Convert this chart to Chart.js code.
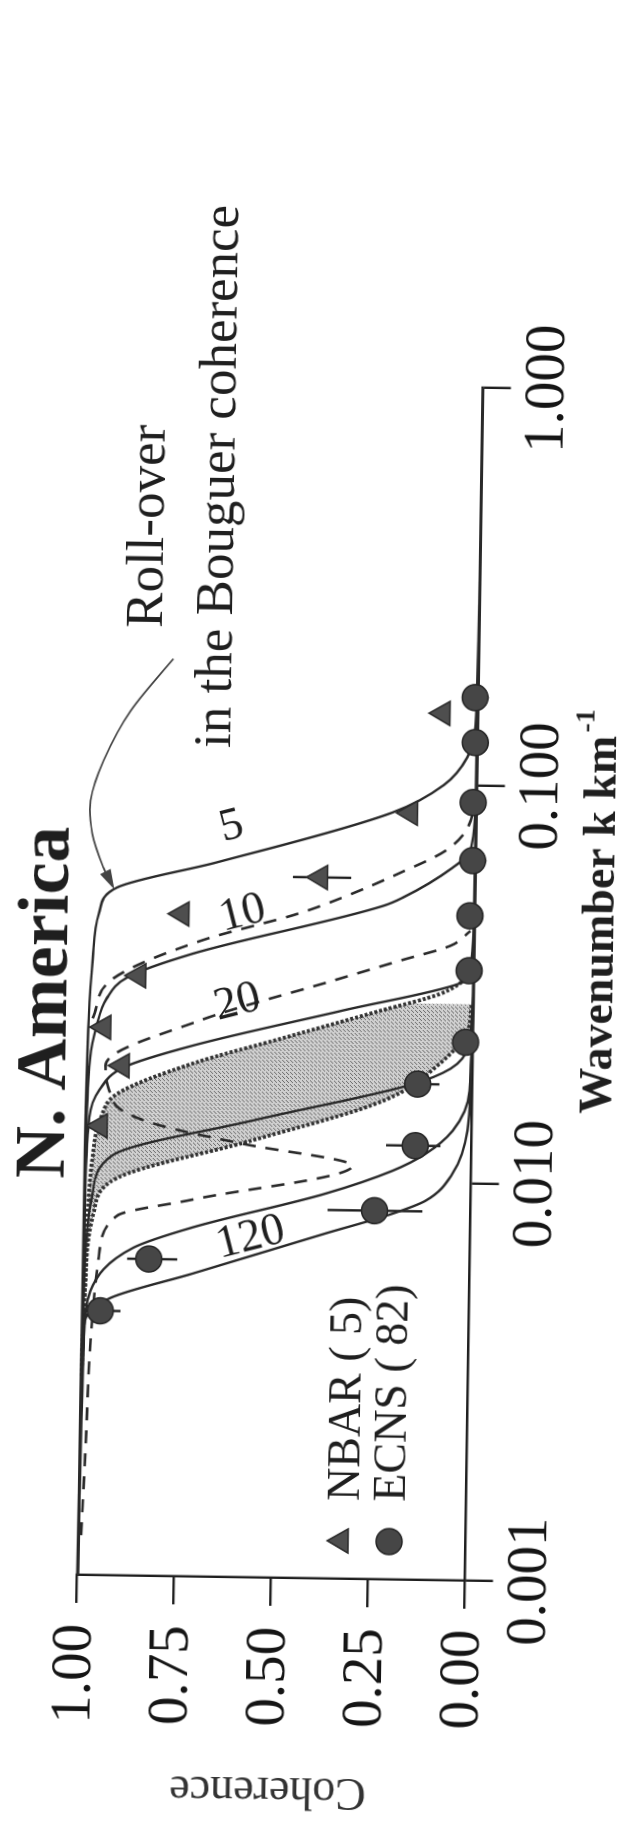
<!DOCTYPE html>
<html><head><meta charset="utf-8">
<script src="https://cdn.jsdelivr.net/npm/chart.js@4.4.1/dist/chart.umd.min.js"></script>
<style>
html,body{margin:0;padding:0;background:#fff;overflow:hidden;}
#wrap{position:relative;width:642px;height:1825px;overflow:hidden;background:#fff;}
#c{position:absolute;left:-591.5px;top:591.5px;width:1825px;height:642px;transform:rotate(-89.14deg);transform-origin:50% 50%;}
</style></head><body>
<div id="wrap"><canvas id="c" width="1825" height="642"></canvas></div>
<script>
// ---- axis ticks ----
const wavenumberTicks = [0.001, 0.01, 0.1, 1];
const coherenceTicks = [0, 0.25, 0.5, 0.75, 1];

// ---- observed coherence: ECNS (circles) ----
const ecnsK  = [0.1663, 0.1282, 0.09057, 0.06471, 0.04699, 0.03420, 0.02259, 0.01766, 0.01236, 0.008453, 0.006266, 0.004624];
const ecnsC  = [0.008, 0.006, 0.009, 0.008, 0.013, 0.013, 0.019, 0.141, 0.145, 0.247, 0.826, 0.949];
const ecnsLo = [null, null, null, null, null, null, null, 0.085, 0.080, 0.124, 0.753, 0.897];
const ecnsHi = [null, null, null, null, null, null, null, 0.206, 0.220, 0.368, 0.882, 0.992];

// ---- observed coherence: NBAR (triangles) ----
const nbarK  = [0.1514, 0.08472, 0.05794, 0.04634, 0.03228, 0.02388, 0.01914, 0.01349];
const nbarC  = [0.090, 0.170, 0.399, 0.754, 0.863, 0.951, 0.902, 0.956];
const nbarLo = [null, null, 0.32, null, null, null, null, null];
const nbarHi = [null, null, 0.47, null, null, null, null, null];

// ---- theoretical curves (solid) ----
const te5K  = [0.001, 0.01, 0.02512, 0.03548, 0.04603, 0.05370, 0.06266, 0.08492, 0.1, 0.1175, 0.1413, 0.3162, 1];
const te5C  = [0.997, 0.995, 0.99, 0.982, 0.968, 0.922, 0.666, 0.216, 0.085, 0.026, 0.006, 0.001, 0];
const te10K = [0.001, 0.01, 0.01995, 0.02399, 0.02818, 0.03192, 0.03681, 0.04943, 0.05188, 0.06194, 0.06855, 0.1, 1];
const te10C = [0.997, 0.993, 0.985, 0.97, 0.945, 0.893, 0.726, 0.236, 0.187, 0.06, 0.014, 0.002, 0];
const te20K = [0.001, 0.007943, 0.01413, 0.01660, 0.01897, 0.02163, 0.02685, 0.03170, 0.03319, 0.05012, 1];
const te20C = [0.997, 0.993, 0.985, 0.96, 0.898, 0.722, 0.337, 0.038, 0.014, 0.002, 0];
const te40K = [0.001, 0.006310, 0.008913, 0.01138, 0.01413, 0.01758, 0.01936, 0.02213, 0.03162, 1];
const te40C = [0.997, 0.99, 0.975, 0.924, 0.56, 0.159, 0.057, 0.012, 0.002, 0];
const te80K = [0.001, 0.003981, 0.005188, 0.006683, 0.007551, 0.009290, 0.01067, 0.01180, 0.01352, 0.01706, 0.03162, 1];
const te80C = [0.997, 0.99, 0.975, 0.866, 0.715, 0.374, 0.202, 0.118, 0.049, 0.007, 0.001, 0];
const te120K = [0.001, 0.003548, 0.004365, 0.004989, 0.005781, 0.007379, 0.008318, 0.008995, 0.01054, 0.01355, 0.01807, 0.03162, 1];
const te120C = [0.998, 0.995, 0.988, 0.923, 0.713, 0.372, 0.201, 0.116, 0.048, 0.011, 0.005, 0.001, 0];

// ---- shaded band edges ----
const bandUK = [0.005012, 0.01122, 0.01413, 0.01626, 0.01950, 0.02280, 0.02692, 0.02985, 0.03266, 0.03548];
const bandUC = [0.99, 0.975, 0.955, 0.914, 0.721, 0.488, 0.239, 0.086, 0.022, 0.005];
const bandLK = [0.003162, 0.005012, 0.008128, 0.01, 0.01253, 0.01600, 0.01991, 0.02415, 0.02818];
const bandLC = [0.995, 0.99, 0.97, 0.910, 0.569, 0.228, 0.085, 0.015, 0.005];

// ---- dashed curves ----
const dash1K = [0.001259, 0.002056, 0.003890, 0.006310, 0.008035, 0.008872, 0.01094, 0.01230, 0.01358, 0.01476, 0.01660, 0.01914, 0.02512, 0.03192, 0.03606, 0.03945, 0.04305];
const dash1C = [0.99, 0.982, 0.973, 0.955, 0.909, 0.716, 0.306, 0.587, 0.801, 0.900, 0.935, 0.945, 0.70, 0.362, 0.19, 0.062, 0.011];
const dash2K = [0.02512, 0.03162, 0.03972, 0.04710, 0.05164, 0.05998, 0.06839, 0.07907, 0.1];
const dash2C = [0.98, 0.93, 0.705, 0.449, 0.342, 0.193, 0.078, 0.020, 0.003];

// ---- annotations ----
const curveLabelText = ['5', '10', '20', '120'];
const curveLabelK = [0.07709, 0.04667, 0.02786, 0.007145];
const curveLabelC = [0.630, 0.598, 0.608, 0.565];
const noteLines = ['Roll-over', 'in the Bouguer coherence'];
const noteK = [0.2421, 0.1216];
const noteC = [0.817, 0.636];
const arrowK = [0.2028, 0.1496, 0.1117, 0.08851, 0.07311, 0.06012, 0.05420];
const arrowC = [0.786, 0.894, 0.962, 0.994, 0.988, 0.958, 0.934];

const serif = "'Liberation Serif','Times New Roman',serif";
const ink = '#1f1f1f';
const pts = (ks, cs) => ks.map((k, i) => ({x: k, y: cs[i]}));

function stipple() {
  const p = document.createElement('canvas'); p.width = 4; p.height = 4;
  const g = p.getContext('2d');
  g.fillStyle = 'rgba(206,206,206,0.95)'; g.fillRect(0, 0, 4, 4);
  g.fillStyle = '#6a6a6a';
  [[0,0],[2,2],[3,1]].forEach(([a,b]) => g.fillRect(a, b, 1, 1));
  return g.createPattern(p, 'repeat');
}

const solid = {showLine: true, pointRadius: 0, borderColor: '#2a2a2a', borderWidth: 2.4, cubicInterpolationMode: 'monotone', fill: false, clip: 12, order: 2};
const dashed = {showLine: true, pointRadius: 0, borderColor: '#2a2a2a', borderWidth: 2.6, borderDash: [13, 10], cubicInterpolationMode: 'monotone', fill: false, clip: 12, order: 3};

function smoothPath(ctx, p) {
  ctx.moveTo(p[0][0], p[0][1]);
  for (let i = 0; i < p.length - 1; i++) {
    const p0 = p[Math.max(i - 1, 0)], p1 = p[i], p2 = p[i + 1], p3 = p[Math.min(i + 2, p.length - 1)];
    ctx.bezierCurveTo(p1[0] + (p2[0] - p0[0]) / 6, p1[1] + (p2[1] - p0[1]) / 6,
                      p2[0] - (p3[0] - p1[0]) / 6, p2[1] - (p3[1] - p1[1]) / 6, p2[0], p2[1]);
  }
}

const overlay = {
  id: 'overlay',
  beforeDatasetsDraw(chart) {
    const {ctx, scales: {x, y}} = chart;
    ctx.save();
    ctx.strokeStyle = ink; ctx.lineWidth = 2.4; ctx.setLineDash([]);
    [[ecnsK, ecnsLo, ecnsHi], [nbarK, nbarLo, nbarHi]].forEach(([ks, lo, hi]) => {
      ks.forEach((k, i) => {
        if (lo[i] == null) return;
        const px = x.getPixelForValue(k);
        ctx.beginPath(); ctx.moveTo(px, y.getPixelForValue(lo[i])); ctx.lineTo(px, y.getPixelForValue(hi[i])); ctx.stroke();
      });
    });
    ctx.restore();
  },
  afterDatasetsDraw(chart) {
    const {ctx, scales: {x, y}} = chart;
    const X = v => x.getPixelForValue(v), Y = v => y.getPixelForValue(v);
    ctx.save();
    ctx.fillStyle = ink;
    // curve labels, set along the curves
    ctx.font = `46px ${serif}`; ctx.textAlign = 'center'; ctx.textBaseline = 'middle';
    curveLabelText.forEach((t, i) => {
      ctx.save(); ctx.translate(X(curveLabelK[i]), Y(curveLabelC[i])); ctx.rotate(75 * Math.PI / 180);
      ctx.fillText(t, 0, 0); ctx.restore();
    });
    // roll-over note
    ctx.textAlign = 'left'; ctx.textBaseline = 'alphabetic'; ctx.font = `53px ${serif}`;
    noteLines.forEach((t, i) => ctx.fillText(t, X(noteK[i]), Y(noteC[i])));
    // arrow
    const ap = arrowK.map((k, i) => [X(k), Y(arrowC[i])]);
    ctx.strokeStyle = '#444'; ctx.lineWidth = 1.8;
    ctx.beginPath(); smoothPath(ctx, ap); ctx.stroke();
    const a = ap[ap.length - 1], b = ap[ap.length - 2];
    const ang = Math.atan2(a[1] - b[1], a[0] - b[0]);
    ctx.fillStyle = '#444';
    ctx.beginPath();
    ctx.moveTo(a[0] + 4 * Math.cos(ang), a[1] + 4 * Math.sin(ang));
    ctx.lineTo(a[0] - 16 * Math.cos(ang) + 6 * Math.sin(ang), a[1] - 16 * Math.sin(ang) - 6 * Math.cos(ang));
    ctx.lineTo(a[0] - 16 * Math.cos(ang) - 6 * Math.sin(ang), a[1] - 16 * Math.sin(ang) + 6 * Math.cos(ang));
    ctx.closePath(); ctx.fill();
    ctx.restore();
  },
  afterDraw(chart) {
    const {ctx} = chart;
    ctx.save();
    ctx.fillStyle = ink;
    // title
    ctx.font = `bold 72px ${serif}`; ctx.textAlign = 'center'; ctx.textBaseline = 'alphabetic';
    ctx.fillText('N. America', 819, 67);
    // x-axis title with superscript
    ctx.font = `bold 46px ${serif}`;
    const main = 'Wavenumber k km', sup = '-1';
    const wMain = ctx.measureText(main).width;
    ctx.font = `bold 28px ${serif}`;
    const wSup = ctx.measureText(sup).width;
    const start = 918 - (wMain + wSup + 3) / 2;
    ctx.textAlign = 'left';
    ctx.font = `bold 46px ${serif}`; ctx.fillText(main, start, 613);
    ctx.font = `bold 28px ${serif}`; ctx.fillText(sup, start + wMain + 3, 591);
    // legend
    ctx.font = `46px ${serif}`;
    const items = [
      {ds: 0, v: 350, base: 367},
      {ds: 1, v: 398, base: 413}
    ];
    items.forEach(it => {
      const d = chart.data.datasets[it.ds];
      ctx.fillStyle = d.backgroundColor; ctx.strokeStyle = d.borderColor; ctx.lineWidth = d.borderWidth;
      Chart.helpers.drawPoint(ctx, {pointStyle: d.pointStyle, rotation: 0, radius: d.pointRadius, borderWidth: d.borderWidth}, 285, it.v);
      ctx.fillStyle = ink;
      ctx.fillText(d.label, 325, it.base);
    });
    ctx.restore();
  }
};

new Chart(document.getElementById('c'), {
  type: 'line',
  data: {
    datasets: [
      {label: 'NBAR ( 5)', data: pts(nbarK, nbarC), showLine: false, pointStyle: 'triangle', pointRadius: 14, backgroundColor: '#4e4e4e', borderColor: '#2a2a2a', borderWidth: 1.5, clip: false, order: 0},
      {label: 'ECNS ( 82)', data: pts(ecnsK, ecnsC), showLine: false, pointStyle: 'circle', pointRadius: 13, backgroundColor: '#464646', borderColor: '#262626', borderWidth: 1.5, clip: false, order: 0},
      {label: 'Te 5', data: pts(te5K, te5C), ...solid},
      {label: 'Te 10', data: pts(te10K, te10C), ...solid},
      {label: 'Te 20', data: pts(te20K, te20C), ...solid},
      {label: 'Te 40', data: pts(te40K, te40C), ...solid},
      {label: 'Te 80', data: pts(te80K, te80C), ...solid},
      {label: 'Te 120', data: pts(te120K, te120C), ...solid},
      {label: 'band upper', data: pts(bandUK, bandUC), showLine: true, pointRadius: 0, borderColor: '#333', borderWidth: 3.8, borderDash: [3, 2], cubicInterpolationMode: 'monotone', fill: false, clip: 12, order: 5},
      {label: 'band lower', data: pts(bandLK, bandLC), showLine: true, pointRadius: 0, borderColor: '#333', borderWidth: 3.8, borderDash: [3, 2], cubicInterpolationMode: 'monotone', fill: '-1', backgroundColor: stipple(), clip: 12, order: 5},
      {label: 'observed 1', data: pts(dash1K, dash1C), ...dashed},
      {label: 'observed 2', data: pts(dash2K, dash2C), ...dashed}
    ]
  },
  options: {
    responsive: false,
    devicePixelRatio: 1,
    animation: false,
    events: [],
    layout: {padding: {top: 86, right: 385, left: 0, bottom: 0}},
    plugins: {legend: {display: false}, tooltip: {enabled: false}, title: {display: false}},
    scales: {
      x: {
        type: 'logarithmic', min: 0.001, max: 1, position: 'bottom',
        afterBuildTicks: s => { s.ticks = wavenumberTicks.map(v => ({value: v})); },
        afterFit: s => { s.height = 167.5; },
        ticks: {callback: v => Number(v).toFixed(3), font: {family: serif, size: 57}, color: '#151515', padding: 3, autoSkip: false, maxRotation: 0, minRotation: 0},
        grid: {display: true, drawOnChartArea: false, drawTicks: true, tickLength: 28, color: ink, lineWidth: 2.4},
        border: {display: true, color: ink, width: 2.4}
      },
      y: {
        type: 'linear', min: 0, max: 1, position: 'left',
        afterBuildTicks: s => { s.ticks = coherenceTicks.map(v => ({value: v})); },
        afterFit: s => { s.width = 247; },
        ticks: {callback: v => Number(v).toFixed(2), font: {family: serif, size: 57}, color: '#151515', padding: 21, autoSkip: false},
        grid: {display: true, drawOnChartArea: false, drawTicks: true, tickLength: 28, color: ink, lineWidth: 2.4},
        border: {display: true, color: ink, width: 2.4},
        title: {display: true, text: 'Coherence', font: {family: serif, size: 46}, color: '#333', padding: {top: 7, bottom: 0}}
      }
    }
  },
  plugins: [overlay]
});
</script>
</body></html>
